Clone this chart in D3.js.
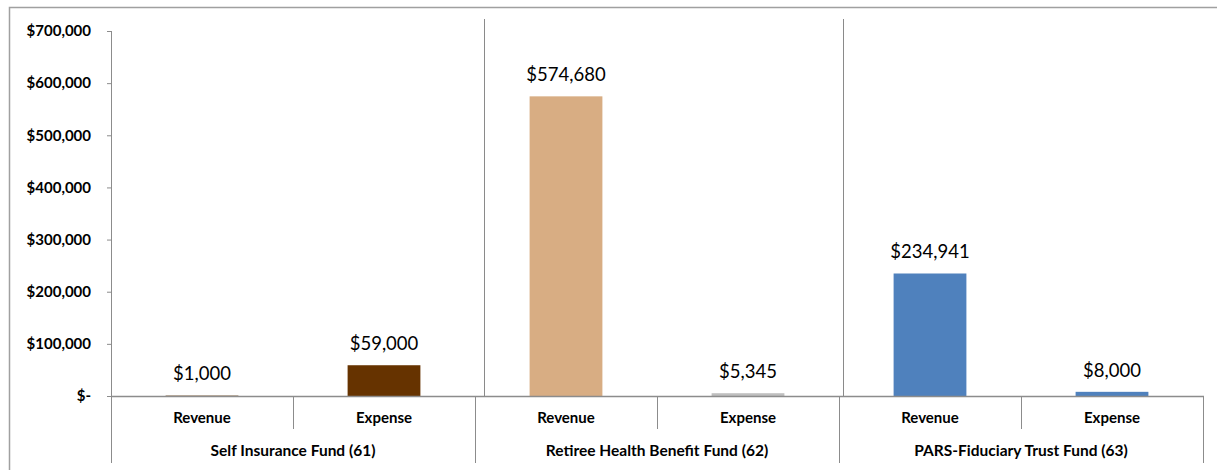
<!DOCTYPE html>
<html>
<head>
<meta charset="utf-8">
<script src="https://cdn.jsdelivr.net/npm/d3@7"></script>
<style>
  html, body { margin: 0; padding: 0; background: #fff; }
  svg { display: block; }
  text { font-family: Lato, "Open Sans", sans-serif; fill: #000; }
</style>
</head>
<body>
<svg id="chart" width="1217" height="470"></svg>
<script>
const funds = ["Self Insurance Fund (61)", "Retiree Health Benefit Fund (62)", "PARS-Fiduciary Trust Fund (63)"];
const categories = ["Revenue", "Expense"];
const values = [1000, 59000, 574680, 5345, 234941, 8000];
const barColors = ["#8a6a4a", "#663300", "#D8AD83", "#BFBFBF", "#4F81BD", "#4F81BD"];
const yTicks = [0, 100000, 200000, 300000, 400000, 500000, 600000, 700000];

(function () {
const svg = d3.select("#chart");
const W = 1217, H = 470;
const plotLeft = 111, plotRight = 1203, plotTop = 31, base = 396;
const axisColor = "#8c8c8c";

// frame
svg.append("path")
  .attr("d", `M9.5,${H} V7.5 H${W}`)
  .attr("fill", "none").attr("stroke", "#a0a0a0").attr("stroke-width", 1.5);

const items = [];
funds.forEach((f, fi) => categories.forEach((c, ci) => {
  items.push({ key: fi + "-" + ci, fund: f, fi, cat: c, ci, value: values[fi * 2 + ci], color: barColors[fi * 2 + ci] });
}));

const x = d3.scaleBand().domain(items.map(d => d.key)).range([plotLeft, plotRight])
  .paddingInner(0.6).paddingOuter(0.3);
const step = x.step();
const y = d3.scaleLinear().domain([0, 700000]).range([base, plotTop]);

const fmt = d3.format(",");
const yAxis = d3.axisLeft(y).tickValues(yTicks).tickSize(4).tickPadding(16)
  .tickFormat(v => v === 0 ? "$-" : "$" + fmt(v));
const gy = svg.append("g").attr("transform", `translate(${plotLeft},0)`).call(yAxis);
gy.select(".domain").remove();
gy.selectAll(".tick line").attr("stroke", axisColor);
gy.selectAll(".tick text").style("font-family", "Lato, sans-serif")
  .style("font-weight", "bold").style("font-size", "15px").attr("fill", "#000");

// y axis line (extends to bottom of category area)
svg.append("line").attr("x1", plotLeft + 0.5).attr("x2", plotLeft + 0.5)
  .attr("y1", plotTop).attr("y2", 463).attr("stroke", axisColor);

// group separators: lower part at group boundaries
const groupEdge = fi => plotLeft + fi * 2 * step;
[1, 2].forEach(fi => {
  svg.append("line").attr("x1", groupEdge(fi) + 0.5).attr("x2", groupEdge(fi) + 0.5)
    .attr("y1", base).attr("y2", 463).attr("stroke", axisColor);
});
// drawn divider lines in plot area (slightly offset right of the boundary)
[1, 2].forEach(fi => {
  const xs = Math.round(groupEdge(fi) + (fi === 1 ? 9 : 4));
  svg.append("line").attr("x1", xs + 0.5).attr("x2", xs + 0.5)
    .attr("y1", 19).attr("y2", base).attr("stroke", "#8a8a8a");
});
svg.append("line").attr("x1", plotRight + 0.5).attr("x2", plotRight + 0.5)
  .attr("y1", base).attr("y2", 463).attr("stroke", axisColor);
// within group separators
funds.forEach((f, fi) => {
  const xs = groupEdge(fi) + step;
  svg.append("line").attr("x1", xs + 0.5).attr("x2", xs + 0.5)
    .attr("y1", base).attr("y2", 429).attr("stroke", axisColor);
});

// bars
svg.append("g").selectAll("rect").data(items).join("rect")
  .attr("x", d => x(d.key)).attr("width", x.bandwidth())
  .attr("y", d => y(d.value)).attr("height", d => base - y(d.value))
  .attr("fill", d => d.color);

// x axis line
svg.append("line").attr("x1", plotLeft).attr("x2", plotRight + 1)
  .attr("y1", base + 0.5).attr("y2", base + 0.5).attr("stroke", axisColor).attr("stroke-width", 1.3);

// value labels
svg.append("g").selectAll("text").data(items).join("text")
  .attr("x", d => x(d.key) + x.bandwidth() / 2)
  .attr("y", d => y(d.value) - 15)
  .attr("text-anchor", "middle")
  .style("font-size", "18.5px")
  .text(d => "$" + fmt(d.value));

// category labels
svg.append("g").selectAll("text").data(items).join("text")
  .attr("x", d => x(d.key) + x.bandwidth() / 2)
  .attr("y", 423)
  .attr("text-anchor", "middle")
  .style("font-size", "15px").style("font-weight", "bold")
  .text(d => d.cat);

// fund labels
svg.append("g").selectAll("text").data(funds).join("text")
  .attr("x", (d, i) => groupEdge(i) + step)
  .attr("y", 456)
  .attr("text-anchor", "middle")
  .style("font-size", "15.5px").style("font-weight", "bold")
  .text(d => d);
})();
</script>
</body>
</html>
